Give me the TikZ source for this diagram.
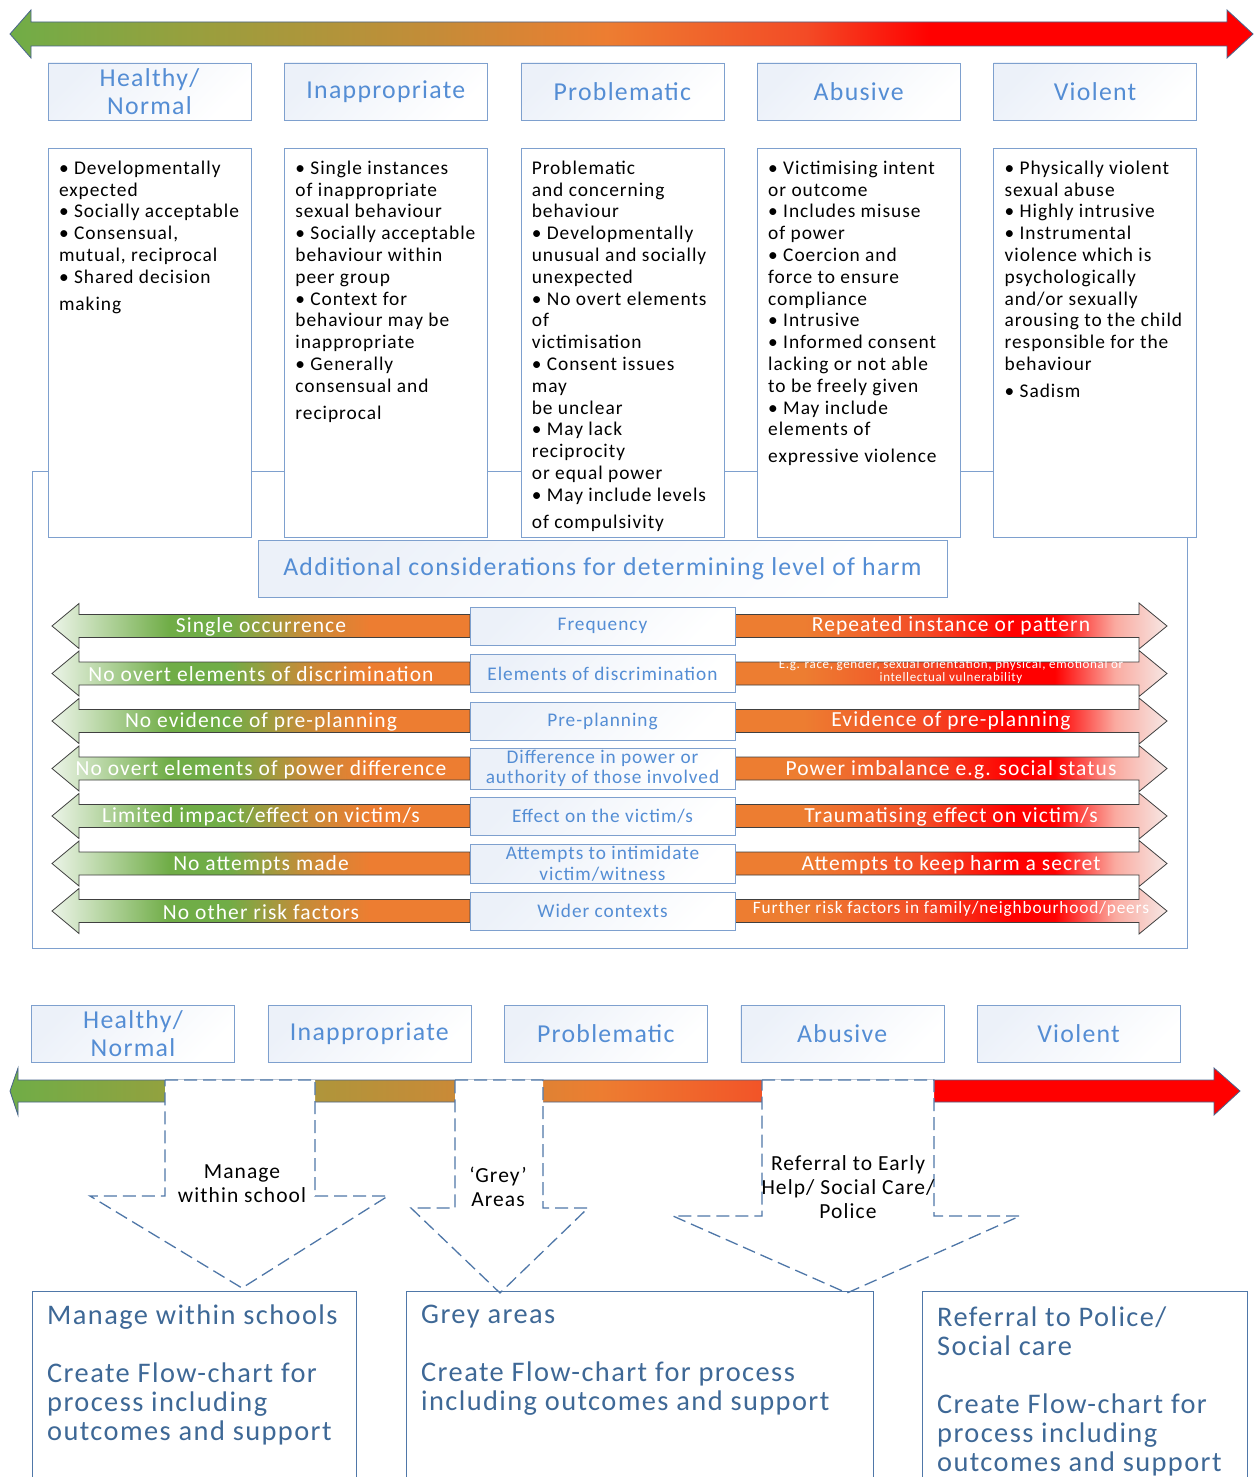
\documentclass[tikz,border=0pt]{standalone}
\usepackage{fontspec}
\setmainfont{Carlito}[LetterSpace=5]
\usetikzlibrary{positioning}

\definecolor{sgreen}{RGB}{112,173,71}
\definecolor{solive}{RGB}{150,160,62}
\definecolor{sbrown}{RGB}{196,140,56}
\definecolor{sorange}{RGB}{237,125,49}
\definecolor{sorred}{RGB}{243,75,38}
\definecolor{sred}{RGB}{255,0,0}
\definecolor{lfpale}{RGB}{236,244,232}
\definecolor{rfpale}{RGB}{246,232,229}
\definecolor{rfpink}{RGB}{250,170,160}
\definecolor{hdrfill}{RGB}{236,241,249}
\definecolor{hdrline}{RGB}{126,160,206}
\definecolor{hdrtext}{RGB}{84,141,212}
\definecolor{resline}{RGB}{79,119,168}
\definecolor{resblue}{RGB}{62,104,150}
\definecolor{arrline}{RGB}{72,100,140}

% colour runs of the big arrows and of the row arrows
\pgfdeclarehorizontalshading{spectrum}{100bp}{color(0bp)=(sgreen); color(25bp)=(sgreen); color(32bp)=(solive); color(42bp)=(sbrown); color(49bp)=(sorange); color(57bp)=(sorred); color(62bp)=(sred); color(100bp)=(sred)}
\pgfdeclarehorizontalshading{leftfade}{100bp}{color(0bp)=(lfpale); color(25bp)=(lfpale); color(39bp)=(sgreen); color(46bp)=(sgreen); color(55bp)=(sbrown); color(63bp)=(sorange); color(100bp)=(sorange)}
\pgfdeclarehorizontalshading{rightfade}{100bp}{color(0bp)=(sorange); color(33bp)=(sorange); color(47bp)=(sorred); color(57bp)=(sred); color(62bp)=(sred); color(69bp)=(rfpink); color(75bp)=(rfpale); color(100bp)=(rfpale)}

\begin{document}
\begin{tikzpicture}[x=1pt, y=-1pt,
    hdr/.style={draw=hdrline, top color=hdrfill, bottom color=white, shading angle=45, minimum width=203pt, minimum height=57pt, align=center, text=hdrtext, font=\fontsize{25.8}{28}\selectfont, inner sep=2pt},
    colbox/.style={draw=hdrline, fill=white, minimum width=203pt, minimum height=389pt, inner sep=0pt},
    coltext/.style={align=left, inner sep=0pt, font=\fontsize{19.4}{21.8}\selectfont},
    midbox/.style={hdr, minimum width=265pt, minimum height=38pt, font=\fontsize{19.3}{20.5}\selectfont},
    leftarr/.style={draw=black!75, line width=0.8pt, shading=leftfade},
    rightarr/.style={draw=black!75, line width=0.8pt, shading=rightfade},
    bigarr/.style={draw=arrline, line width=0.8pt, shading=spectrum},
    arrtext/.style={text=white, font=\fontsize{21.5}{22}\selectfont, inner sep=0pt},
    callout/.style={draw=resline, dash pattern=on 13pt off 6pt, line width=1.3pt, fill=white},
    callouttext/.style={align=center, font=\fontsize{21.5}{24}\selectfont, inner sep=0pt},
    resbox/.style={draw=resline, line width=0.9pt, minimum height=230pt, inner sep=0pt},
    restext/.style={align=left, inner sep=0pt, text=resblue, font=\fontsize{28.4}{29}\selectfont}]

    \useasboundingbox (0,0) rectangle (1255,1477);

    % top scale arrow
    \shadedraw[bigarr] (10,34) -- (31,10) -- (31,22) -- (1227,22) -- (1227,10) -- (1253,34) -- (1227,58) -- (1227,46) -- (31,46) -- (31,58) -- cycle;

    % frame round the considerations
    \node[draw=hdrline, fill=white, minimum width=1155pt, minimum height=477pt, inner sep=0pt] (frame) at (609.5,709.5) {};

    % level headers
    \node[hdr] (h1) at (149.5,91.5) {Healthy/\\Normal};
    \node[hdr, right=33pt of h1] (h2) {Inappropriate};
    \node[hdr, right=33pt of h2] (h3) {Problematic};
    \node[hdr, right=33pt of h3] (h4) {Abusive};
    \node[hdr, right=33pt of h4] (h5) {Violent};

    % description columns
    \node[colbox, below=28pt of h1] (c1) {};
    \node[colbox, below=28pt of h2] (c2) {};
    \node[colbox, below=28pt of h3] (c3) {};
    \node[colbox, below=28pt of h4] (c4) {};
    \node[colbox, below=28pt of h5] (c5) {};

    \node[coltext, below right=12.5pt and 11pt of c1.north west] (t1) {• Developmentally\\expected\\• Socially acceptable\\• Consensual,\\mutual, reciprocal\\• Shared decision\\[5pt]making};
    \node[coltext, below right=12.5pt and 11pt of c2.north west] (t2) {• Single instances\\of inappropriate\\sexual behaviour\\• Socially acceptable\\behaviour within\\peer group\\• Context for\\behaviour may be\\inappropriate\\• Generally\\consensual and\\[5pt]reciprocal};
    \node[coltext, below right=12.5pt and 11pt of c3.north west] (t3) {Problematic\\and concerning\\behaviour\\• Developmentally\\unusual and socially\\unexpected\\• No overt elements\\of\\victimisation\\• Consent issues\\may\\be unclear\\• May lack\\reciprocity\\or equal power\\• May include levels\\[5pt]of compulsivity};
    \node[coltext, below right=12.5pt and 11pt of c4.north west] (t4) {• Victimising intent\\or outcome\\• Includes misuse\\of power\\• Coercion and\\force to ensure\\compliance\\• Intrusive\\• Informed consent\\lacking or not able\\to be freely given\\• May include\\elements of\\[5pt]expressive violence};
    \node[coltext, below right=12.5pt and 11pt of c5.north west] (t5) {• Physically violent\\sexual abuse\\• Highly intrusive\\• Instrumental\\violence which is\\psychologically\\and/or sexually\\arousing to the child\\responsible for the\\behaviour\\[5pt]• Sadism};

    \node[hdr, minimum width=689pt] (add) at (602.5,568.5) {Additional considerations for determining level of harm};

    % considerations, one row each
    \shadedraw[leftarr] (52,626) -- ++(27,-22.5) -- ++(0,11) -- ++(391,0) -- ++(0,23) -- ++(-391,0) -- ++(0,11) -- cycle;
    \shadedraw[rightarr] (735,614.5) -- ++(404,0) -- ++(0,-11.5) -- ++(28,23) -- ++(-28,23) -- ++(0,-11.5) -- ++(-404,0) -- cycle;
    \node[arrtext] (l1) at (261,627) {Single occurrence};
    \node[midbox] (m1) at (602.5,626) {Frequency};
    \node[arrtext] (r1) at (951,626) {Repeated instance or pattern};

    \shadedraw[leftarr] (52,673.5) -- ++(27,-22.5) -- ++(0,11) -- ++(391,0) -- ++(0,23) -- ++(-391,0) -- ++(0,11) -- cycle;
    \shadedraw[rightarr] (735,662) -- ++(404,0) -- ++(0,-11.5) -- ++(28,23) -- ++(-28,23) -- ++(0,-11.5) -- ++(-404,0) -- cycle;
    \node[arrtext] (l2) at (261,674.5) {No overt elements of discrimination};
    \node[midbox] (m2) at (602.5,673.5) {Elements of discrimination};
    \node[arrtext, align=center, font=\fontsize{13}{8}\selectfont] (r2) at (951,671.5) {E.g. race, gender, sexual orientation, physical, emotional or\\intellectual vulnerability};

    \shadedraw[leftarr] (52,721) -- ++(27,-22.5) -- ++(0,11) -- ++(391,0) -- ++(0,23) -- ++(-391,0) -- ++(0,11) -- cycle;
    \shadedraw[rightarr] (735,709.5) -- ++(404,0) -- ++(0,-11.5) -- ++(28,23) -- ++(-28,23) -- ++(0,-11.5) -- ++(-404,0) -- cycle;
    \node[arrtext] (l3) at (261,722) {No evidence of pre-planning};
    \node[midbox] (m3) at (602.5,721) {Pre-planning};
    \node[arrtext] (r3) at (951,721) {Evidence of pre-planning};

    \shadedraw[leftarr] (52,768.5) -- ++(27,-22.5) -- ++(0,11) -- ++(391,0) -- ++(0,23) -- ++(-391,0) -- ++(0,11) -- cycle;
    \shadedraw[rightarr] (735,757) -- ++(404,0) -- ++(0,-11.5) -- ++(28,23) -- ++(-28,23) -- ++(0,-11.5) -- ++(-404,0) -- cycle;
    \node[arrtext] (l4) at (261,769.5) {No overt elements of power difference};
    \node[midbox] (m4) at (602.5,768.5) {Difference in power or\\authority of those involved};
    \node[arrtext] (r4) at (951,769.5) {Power imbalance e.g. social status};

    \shadedraw[leftarr] (52,816) -- ++(27,-22.5) -- ++(0,11) -- ++(391,0) -- ++(0,23) -- ++(-391,0) -- ++(0,11) -- cycle;
    \shadedraw[rightarr] (735,804.5) -- ++(404,0) -- ++(0,-11.5) -- ++(28,23) -- ++(-28,23) -- ++(0,-11.5) -- ++(-404,0) -- cycle;
    \node[arrtext] (l5) at (261,817) {Limited impact/effect on victim/s};
    \node[midbox] (m5) at (602.5,816) {Effect on the victim/s};
    \node[arrtext] (r5) at (951,817) {Traumatising effect on victim/s};

    \shadedraw[leftarr] (52,863.5) -- ++(27,-22.5) -- ++(0,11) -- ++(391,0) -- ++(0,23) -- ++(-391,0) -- ++(0,11) -- cycle;
    \shadedraw[rightarr] (735,852) -- ++(404,0) -- ++(0,-11.5) -- ++(28,23) -- ++(-28,23) -- ++(0,-11.5) -- ++(-404,0) -- cycle;
    \node[arrtext] (l6) at (261,864.5) {No attempts made};
    \node[midbox] (m6) at (602.5,863.5) {Attempts to intimidate\\victim/witness};
    \node[arrtext] (r6) at (951,864.5) {Attempts to keep harm a secret};

    \shadedraw[leftarr] (52,911) -- ++(27,-22.5) -- ++(0,11) -- ++(391,0) -- ++(0,23) -- ++(-391,0) -- ++(0,11) -- cycle;
    \shadedraw[rightarr] (735,899.5) -- ++(404,0) -- ++(0,-11.5) -- ++(28,23) -- ++(-28,23) -- ++(0,-11.5) -- ++(-404,0) -- cycle;
    \node[arrtext] (l7) at (261,912) {No other risk factors};
    \node[midbox] (m7) at (602.5,911) {Wider contexts};
    \node[arrtext, font=\fontsize{17.3}{18}\selectfont] (r7) at (951,909) {Further risk factors in family/neighbourhood/peers};

    % lower scale
    \node[hdr] (b1) at (133,1033.5) {Healthy/\\Normal};
    \node[hdr, right=33pt of b1] (b2) {Inappropriate};
    \node[hdr, right=33pt of b2] (b3) {Problematic};
    \node[hdr, right=33pt of b3] (b4) {Abusive};
    \node[hdr, right=33pt of b4] (b5) {Violent};

    \shadedraw[bigarr] (10,1091) -- (18,1068) -- (18,1080) -- (1214,1080) -- (1214,1068) -- (1240,1091) -- (1214,1115) -- (1214,1102) -- (18,1102) -- (18,1115) -- cycle;

    % dashed down arrows
    \filldraw[callout] (165,1080) -- (315,1080) -- (315,1196) -- (388,1196) -- (242,1288) -- (90,1196) -- (165,1196) -- cycle;
    \filldraw[callout] (455,1080) -- (543,1080) -- (543,1208) -- (588,1208) -- (500,1293) -- (411,1208) -- (455,1208) -- cycle;
    \filldraw[callout] (762,1080) -- (934,1080) -- (934,1216) -- (1020,1216) -- (847,1293) -- (673,1216) -- (762,1216) -- cycle;
    \node[callouttext] (k1) at (242,1184) {Manage\\within school};
    \node[callouttext] (k2) at (498,1187) {‘Grey’\\Areas};
    \node[callouttext] (k3) at (848,1187) {Referral to Early\\Help/ Social Care/\\Police};

    % outcome boxes
    \node[resbox, minimum width=324pt, anchor=north west] (s1) at (32,1291) {};
    \node[resbox, minimum width=467pt, anchor=north west] (s2) at (406,1291) {};
    \node[resbox, minimum width=325pt, anchor=north west] (s3) at (922,1291) {};
    \node[restext, below right=14pt and 15pt of s1.north west] (o1) {Manage within schools\\[29pt]Create Flow-chart for\\process including\\outcomes and support};
    \node[restext, below right=14pt and 15pt of s2.north west] (o2) {Grey areas\\[29pt]Create Flow-chart for process\\including outcomes and support};
    \node[restext, below right=16pt and 15pt of s3.north west] (o3) {Referral to Police/\\Social care\\[29pt]Create Flow-chart for\\process including\\outcomes and support};
\end{tikzpicture}
\end{document}
